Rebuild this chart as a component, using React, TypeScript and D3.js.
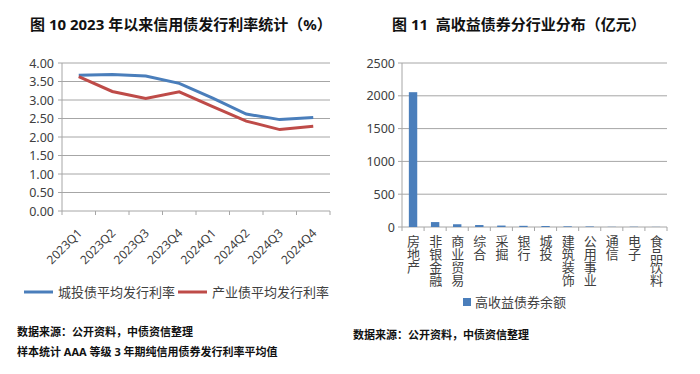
import React from 'react';
import * as d3 from 'd3';

const quarters = ['2023Q1', '2023Q2', '2023Q3', '2023Q4', '2024Q1', '2024Q2', '2024Q3', '2024Q4'];
const chengtou = [3.67, 3.69, 3.65, 3.45, 3.05, 2.62, 2.47, 2.53];
const chanye = [3.63, 3.23, 3.04, 3.22, 2.82, 2.43, 2.2, 2.29];
const rateTicks = [0, 0.5, 1, 1.5, 2, 2.5, 3, 3.5, 4];

const industries = ['房地产', '非银金融', '商业贸易', '综合', '采掘', '银行', '城投', '建筑装饰', '公用事业', '通信', '电子', '食品饮料'];
const balances = [2055, 75, 42, 30, 22, 18, 15, 10, 8, 3, 4, 2];
const amountTicks = [0, 500, 1000, 1500, 2000, 2500];

const FONT = '"Noto Sans", "Noto Sans CJK SC", sans-serif';
const BLUE = '#4a7ebb';
const RED = '#be4b48';
const GRID = '#a6a6a6';
const TXT = '#404040';

function LineChart() {
  const x = d3.scaleBand().domain(quarters).range([62, 330]);
  const y = d3.scaleLinear().domain([0, 4]).range([211, 63]);
  const line = d3.line<number>()
    .x((_, i) => x(quarters[i])! + x.bandwidth() / 2)
    .y(d => y(d));
  const bounds = x.domain().map(q => x(q)!).concat([330]);

  return (
    <g>
      <text x={30} y={30} fontSize={15} fontWeight="bold" fill="#111">图 10 2023 年以来信用债发行利率统计（%）</text>
      {rateTicks.map(t => (
        <g key={t}>
          <line x1={58} x2={330} y1={y(t)} y2={y(t)} stroke={GRID} strokeWidth={1} />
          <text x={54} y={y(t) + 4.5} textAnchor="end" fontSize={12.5} fill={TXT}>{t.toFixed(2)}</text>
        </g>
      ))}
      <line x1={62} x2={62} y1={63} y2={211} stroke={GRID} />
      {bounds.map((b, i) => (
        <line key={i} x1={b} x2={b} y1={211} y2={215} stroke={GRID} />
      ))}
      <path d={line(chengtou)!} fill="none" stroke={BLUE} strokeWidth={3} />
      <path d={line(chanye)!} fill="none" stroke={RED} strokeWidth={3} />
      {quarters.map(q => {
        const cx = x(q)! + x.bandwidth() / 2 + 4;
        return (
          <text key={q} x={cx} y={234} textAnchor="end" fontSize={12} fill={TXT}
            transform={`rotate(-45, ${cx}, 234)`}>{q}</text>
        );
      })}
      <line x1={24} x2={53} y1={292} y2={292} stroke={BLUE} strokeWidth={3} />
      <text x={58} y={297} fontSize={13} fill={TXT}>城投债平均发行利率</text>
      <line x1={178} x2={207} y1={292} y2={292} stroke={RED} strokeWidth={3} />
      <text x={212} y={297} fontSize={13} fill={TXT}>产业债平均发行利率</text>
      <text x={17} y={336} fontSize={11} fontWeight="bold" fill="#111">数据来源：公开资料，中债资信整理</text>
      <text x={17} y={356} fontSize={11} fontWeight="bold" fill="#111">样本统计 AAA 等级 3 年期纯信用债券发行利率平均值</text>
    </g>
  );
}

function BarChart() {
  const x = d3.scaleBand().domain(industries).range([402, 667]).paddingInner(0.62).paddingOuter(0.31);
  const band = d3.scaleBand().domain(industries).range([402, 667]);
  const y = d3.scaleLinear().domain([0, 2500]).range([227, 63]);
  const bounds = band.domain().map(c => band(c)!).concat([667]);

  return (
    <g>
      <text x={392} y={30} fontSize={15} fontWeight="bold" fill="#111">{'图 11\u00a0 高收益债券分行业分布（亿元）'}</text>
      {amountTicks.map(t => (
        <g key={t}>
          <line x1={398} x2={667} y1={y(t)} y2={y(t)} stroke={GRID} strokeWidth={1} />
          <text x={395} y={y(t) + 4.5} textAnchor="end" fontSize={12.5} fill={TXT}>{t}</text>
        </g>
      ))}
      <line x1={402} x2={402} y1={63} y2={227} stroke={GRID} />
      {bounds.map((b, i) => (
        <line key={i} x1={b} x2={b} y1={227} y2={231} stroke={GRID} />
      ))}
      {industries.map((c, i) => (
        <rect key={c} x={x(c)!} y={y(balances[i])} width={x.bandwidth()} height={227 - y(balances[i])} fill={BLUE} />
      ))}
      {industries.map(c => {
        const cx = band(c)! + band.bandwidth() / 2;
        return (
          <text key={c} x={cx} y={235} fontSize={13} fill={TXT}
            style={{ writingMode: 'vertical-rl', textOrientation: 'upright' } as React.CSSProperties}>{c}</text>
        );
      })}
      <rect x={463} y={298} width={8} height={8} fill={BLUE} />
      <text x={475} y={307} fontSize={13} fill={TXT}>高收益债券余额</text>
      <text x={353} y={339} fontSize={11} fontWeight="bold" fill="#111">数据来源：公开资料，中债资信整理</text>
    </g>
  );
}

export default function App() {
  return (
    <svg width={700} height={374} style={{ position: 'absolute', left: 0, top: 0, fontFamily: FONT }}>
      <rect width={700} height={374} fill="#fff" />
      <LineChart />
      <BarChart />
    </svg>
  );
}
